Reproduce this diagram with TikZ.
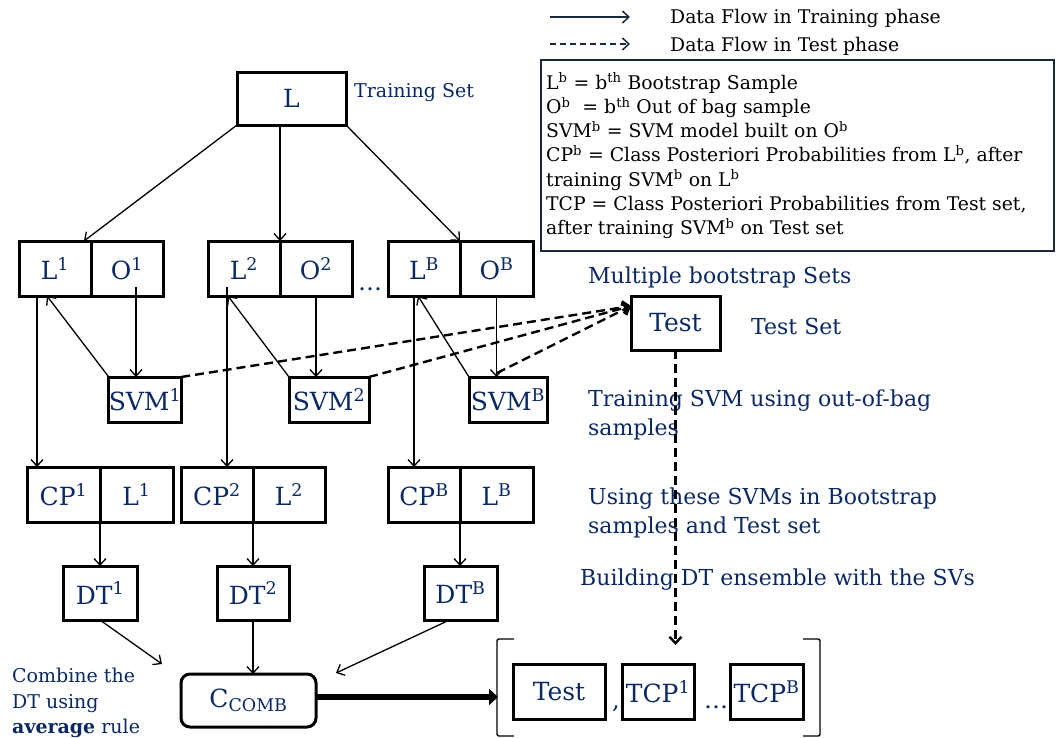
\documentclass[tikz,border=0pt]{standalone}
\usepackage{fontspec}
\setmainfont{DejaVu Serif}
\usetikzlibrary{arrows.meta}
\definecolor{navy}{RGB}{10,40,100}
\definecolor{legline}{RGB}{30,40,60}
\begin{document}
\begin{tikzpicture}[x=1pt,y=-1pt,
  >={Straight Barb[length=6.5pt,width=12pt]},
  box/.style={draw=black, line width=3pt, inner sep=0pt, outer sep=0pt, text=navy,
    font=\fontsize{25}{29}\selectfont, minimum height=55pt},
  lbl/.style={text=navy, font=\fontsize{22}{26}\selectfont, inner sep=0pt, anchor=base west},
  leg/.style={text=black, font=\fontsize{18.8}{22}\selectfont, inner sep=0pt, anchor=base west},
  arr/.style={->, line width=1.3pt},
  dsh/.style={->, line width=2.4pt, dash pattern=on 9pt off 5pt},
]
\useasboundingbox (0,0) rectangle (1058,737);

% legend
\coordinate (la1) at (550,17); \coordinate (la2) at (630,17);
\coordinate (lb1) at (550,44); \coordinate (lb2) at (630,44);
\draw[->, line width=1.5pt, draw=legline] (la1) -- (la2);
\draw[->, line width=1.5pt, draw=legline, dash pattern=on 6pt off 4pt] (lb1) -- (lb2);
\node[leg] (lt1) at (670,23) {Data Flow in Training phase};
\node[leg] (lt2) at (670,51) {Data Flow in Test phase};
\node[draw=legline, line width=1.3pt, minimum width=513pt, minimum height=191pt, inner sep=0pt] (legbox) at (797.5,155.5) {};
\node[leg] (g1) at (546,89) {L\textsuperscript{b} = b\textsuperscript{th} Bootstrap Sample};
\node[leg] (g2) at (546,113.3) {O\textsuperscript{b}\ \ = b\textsuperscript{th} Out of bag sample};
\node[leg] (g3) at (546,137.6) {SVM\textsuperscript{b} = SVM model built on O\textsuperscript{b}};
\node[leg] (g4) at (546,161.9) {CP\textsuperscript{b} = Class Posteriori Probabilities from L\textsuperscript{b}, after};
\node[leg] (g5) at (546,186.2) {training SVM\textsuperscript{b} on L\textsuperscript{b}};
\node[leg] (g6) at (546,210.5) {TCP = Class Posteriori Probabilities from Test set,};
\node[leg] (g7) at (546,234.8) {after training SVM\textsuperscript{b} on Test set};

% top
\node[box, minimum width=109pt, minimum height=53pt] (L) at (291.5,98.5) {L};
\node[lbl, font=\fontsize{19}{23}\selectfont] (ts) at (354,97) {Training Set};

% row 1
\node[box, minimum width=72pt] (L1) at (55,268.5) {L\textsuperscript{1}};
\node[box, minimum width=72pt] (O1) at (127,268.5) {O\textsuperscript{1}};
\node[box, minimum width=72pt] (L2) at (244,268.5) {L\textsuperscript{2}};
\node[box, minimum width=72pt] (O2) at (316,268.5) {O\textsuperscript{2}};
\node[box, minimum width=72pt] (LB) at (424,268.5) {L\textsuperscript{B}};
\node[box, minimum width=73pt] (OB) at (496.5,268.5) {O\textsuperscript{B}};
\node[text=navy, font=\fontsize{24}{28}\selectfont, inner sep=0pt, anchor=base] (dots1) at (370,290) {\dots};

% SVMs
\node[box, minimum width=72pt, minimum height=45pt] (S1) at (145,399.5) {SVM\textsuperscript{1}};
\node[box, minimum width=80pt, minimum height=45pt] (S2) at (329,399.5) {SVM\textsuperscript{2}};
\node[box, minimum width=78pt, minimum height=45pt] (SB) at (508,399.5) {SVM\textsuperscript{B}};

% Test top
\node[box, minimum width=89pt, minimum height=54pt] (Tt) at (675.5,323) {Test};
\node[lbl] (mbs) at (588,283) {Multiple bootstrap Sets};
\node[lbl] (tset) at (751,334) {Test Set};
\node[lbl] (tr1) at (588,406) {Training SVM using out-of-bag};
\node[lbl] (tr2) at (588,435) {samples};
\node[lbl] (us1) at (588,504) {Using these SVMs in Bootstrap};
\node[lbl] (us2) at (588,533) {samples and Test set};
\node[lbl] (bd) at (580,585) {Building DT ensemble with the SVs};

% row CP
\node[box, minimum width=73pt] (CP1) at (63.5,494.5) {CP\textsuperscript{1}};
\node[box, minimum width=73pt] (LL1) at (136.5,494.5) {L\textsuperscript{1}};
\node[box, minimum width=72pt] (CP2) at (217,494.5) {CP\textsuperscript{2}};
\node[box, minimum width=72pt] (LL2) at (289,494.5) {L\textsuperscript{2}};
\node[box, minimum width=72pt] (CPB) at (424,494.5) {CP\textsuperscript{B}};
\node[box, minimum width=73pt] (LLB) at (496.5,494.5) {L\textsuperscript{B}};

% DTs
\node[box, minimum width=74pt, minimum height=54pt] (D1) at (100,593) {DT\textsuperscript{1}};
\node[box, minimum width=72pt, minimum height=54pt] (D2) at (253,593) {DT\textsuperscript{2}};
\node[box, minimum width=73pt, minimum height=54pt] (DB) at (460.5,593) {DT\textsuperscript{B}};

% Combiner
\node[box, rounded corners=9pt, minimum width=135pt, minimum height=53pt] (CC) at (248.5,700.5) {C\textsubscript{COMB}};
\node[text=navy, font=\fontsize{19}{24}\selectfont, inner sep=0pt, anchor=base west] (cmb1) at (12,682) {Combine the};
\node[text=navy, font=\fontsize{19}{24}\selectfont, inner sep=0pt, anchor=base west] (cmb2) at (12,708) {DT using};
\node[text=navy, font=\fontsize{19}{24}\selectfont, inner sep=0pt, anchor=base west] (cmb3) at (12,733) {\textbf{average} rule};

% Output bracket
\node[box, minimum width=92pt, minimum height=55pt] (Tb) at (559,691.5) {Test};
\node[box, minimum width=72pt, minimum height=55pt] (TC1) at (658,691.5) {TCP\textsuperscript{1}};
\node[box, minimum width=73pt, minimum height=55pt] (TCB) at (766.5,691.5) {TCP\textsuperscript{B}};
\node[text=navy, font=\fontsize{24}{28}\selectfont, inner sep=0pt, anchor=base] (comma) at (616,708) {,};
\node[text=navy, font=\fontsize{24}{28}\selectfont, inner sep=0pt, anchor=base] (dots2) at (716,708) {\dots};
\coordinate (bl1) at (514,639); \coordinate (bl2) at (514,736);
\coordinate (br1) at (803,639); \coordinate (br2) at (803,736);
\draw[line width=1.4pt, rounded corners=2pt] (bl1) -- (497,639) -- (497,736) -- (bl2);
\draw[line width=1.4pt, rounded corners=2pt] (br1) -- (820,639) -- (820,736) -- (br2);
\coordinate (brin) at (498,697);

% connectors training
\draw[arr] (L.south west) -- ([xshift=-7pt]L1.north east);
\draw[arr] (L2.north east |- L.south) -- (L2.north east);
\draw[arr] (L.south east) -- (LB.north east);

\coordinate (o1s) at (136,287);
\draw[arr] (o1s) -- (o1s |- S1.north);
\draw[arr] (S1.north west) -- ([xshift=-8pt]L1.south);
\draw[arr] ([xshift=-18pt]L1.south) -- ([xshift=-18pt]L1.south |- CP1.north);

\draw[arr] (O2.south) -- (O2.south |- S2.north);
\draw[arr] (S2.north west) -- ([xshift=-16pt]L2.south);
\coordinate (l2s) at (227,287);
\draw[arr] (l2s) -- (l2s |- CP2.north);

\draw[arr] (OB.south) -- (OB.south |- SB.north);
\draw[arr] (SB.north west) -- ([xshift=-6pt]LB.south);
\draw[arr] ([xshift=-10pt]LB.south) -- ([xshift=-10pt]LB.south |- CPB.north);

\draw[arr] (CP1.south east) -- (CP1.south east |- D1.north);
\draw[arr] (CP2.south east) -- (CP2.south east |- D2.north);
\draw[arr] (CPB.south east) -- (CPB.south east |- DB.north);

\coordinate (c1) at (162,664);
\coordinate (c3) at (336,673);
\draw[arr] (D1.south) -- (c1);
\draw[arr] (D2.south) -- (D2.south |- CC.north);
\draw[arr] ([xshift=-11pt]DB.south) -- (c3);

\draw[line width=6pt, -{Triangle[length=9pt,width=16pt]}] (CC.east |- brin) -- (brin);

% test phase
\draw[dsh] (S1.north east) -- ([yshift=17pt]Tt.west);
\draw[dsh] (S2.north east) -- ([yshift=17pt]Tt.west);
\draw[dsh] ([xshift=-11pt,yshift=4pt]SB.north) -- ([yshift=17pt]Tt.west);
\coordinate (tin) at (675.5,645);
\draw[dsh] (Tt.south) -- (tin);
\end{tikzpicture}
\end{document}
